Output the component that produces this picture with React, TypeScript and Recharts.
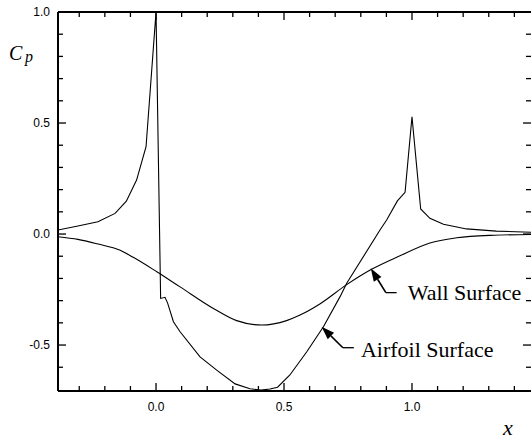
import React from 'react';
import { LineChart, Line, XAxis, YAxis, ReferenceLine } from 'recharts';

// pressure coefficient along the airfoil and along the tunnel wall
const airfoilX = [
  -0.383, -0.305, -0.227, -0.16, -0.116, -0.076, -0.039, 0.0, 0.018, 0.035, 0.045, 0.068, 0.094,
  0.172, 0.237, 0.309, 0.367, 0.41, 0.445, 0.475, 0.523, 0.589, 0.654, 0.719, 0.745, 0.875, 0.901,
  0.943, 0.973, 1.0, 1.034, 1.07, 1.123, 1.213, 1.33, 1.469,
];
const airfoilCp = [
  0.018, 0.036, 0.055, 0.093, 0.148, 0.243, 0.393, 1.0, -0.29, -0.285, -0.31, -0.395, -0.44,
  -0.553, -0.613, -0.675, -0.697, -0.703, -0.698, -0.69, -0.635, -0.53, -0.418, -0.282, -0.222, 0.018, 0.063,
  0.149, 0.188, 0.528, 0.113, 0.071, 0.044, 0.023, 0.013, 0.008,
];

const wallX = [
  -0.383, -0.305, -0.227, -0.142, -0.089, 0.003, 0.094, 0.224, 0.315, 0.413, 0.51, 0.5625, 0.64,
  0.745, 0.842, 0.953, 1.07, 1.175, 1.305, 1.469,
];
const wallCp = [
  -0.012, -0.024, -0.045, -0.072, -0.105, -0.17, -0.238, -0.335, -0.39, -0.41, -0.39, -0.365, -0.315,
  -0.228, -0.159, -0.098, -0.04, -0.017, -0.006, -0.002,
];

const xTicks = [-0.3, -0.2, -0.1, 0, 0.1, 0.2, 0.3, 0.4, 0.5, 0.6, 0.7, 0.8, 0.9, 1.0, 1.1, 1.2, 1.3, 1.4];
const yTicks = [-0.6, -0.5, -0.4, -0.3, -0.2, -0.1, 0, 0.1, 0.2, 0.3, 0.4, 0.5, 0.6, 0.7, 0.8, 0.9, 1.0];

const airfoilData = airfoilX.map((x, i) => ({ x, cp: airfoilCp[i] }));
const wallData = wallX.map((x, i) => ({ x, cp: wallCp[i] }));

const xDomain = [-0.383, 1.465];
const yDomain = [-0.707, 1.0];

const serif = '"Liberation Serif", "Times New Roman", serif';
const sans = '"Liberation Sans", Arial, sans-serif';

const isMajor = (v: number) => Math.abs(v * 2 - Math.round(v * 2)) < 1e-6;
const tickLen = (v: number) => (isMajor(v) ? 8 : 5);

const BottomTick = ({ x, y, payload }: any) => (
  <g>
    <line x1={x} x2={x} y1={y} y2={y - tickLen(payload.value)} stroke="#000" strokeWidth={1.3} />
    {isMajor(payload.value) && (
      <text x={x} y={y + 20} textAnchor="middle" fontSize={12} fontFamily={sans} fill="#000">
        {payload.value.toFixed(1)}
      </text>
    )}
  </g>
);

const TopTick = ({ x, y, payload }: any) => (
  <line x1={x} x2={x} y1={y} y2={y + tickLen(payload.value)} stroke="#000" strokeWidth={1.3} />
);

const LeftTick = ({ x, y, payload }: any) => (
  <g>
    <line x1={x} x2={x + tickLen(payload.value)} y1={y} y2={y} stroke="#000" strokeWidth={1.3} />
    {isMajor(payload.value) && (
      <text x={x - 8} y={y + 4} textAnchor="end" fontSize={12} fontFamily={sans} fill="#000">
        {payload.value.toFixed(1)}
      </text>
    )}
  </g>
);

const RightTick = ({ x, y, payload }: any) => (
  <line x1={x} x2={x - tickLen(payload.value)} y1={y} y2={y} stroke="#000" strokeWidth={1.3} />
);

// diagonal leader with a filled head at the second point
const Arrow = ({ x1, y1, x2, y2 }: any) => {
  const a = Math.atan2(y2 - y1, x2 - x1);
  const L = 13;
  const W = 4.5;
  const bx = x2 - L * Math.cos(a);
  const by = y2 - L * Math.sin(a);
  const px = -Math.sin(a) * W;
  const py = Math.cos(a) * W;
  return (
    <g>
      <line x1={x1} y1={y1} x2={bx} y2={by} stroke="#000" strokeWidth={1.6} />
      <polygon points={`${x2},${y2} ${bx + px},${by + py} ${bx - px},${by - py}`} fill="#000" />
    </g>
  );
};

const leader = (text: string, dx: number, dy: number) => ({ x1, y1, x2, y2 }: any) => (
  <g>
    <line x1={x1} y1={y1} x2={x2} y2={y2} stroke="#000" strokeWidth={1.3} />
    <text x={x2 + dx} y={y2 + dy} fontSize={22} fontFamily={serif} fill="#000">
      {text}
    </text>
  </g>
);

export default function App() {
  return (
    <div style={{ position: 'absolute', left: 0, top: 0, width: 532, height: 441, background: '#fff' }}>
      <LineChart width={532} height={441} margin={{ top: 11, right: 0, bottom: 0, left: 0 }}>
        <XAxis
          xAxisId="b"
          dataKey="x"
          type="number"
          domain={xDomain}
          allowDataOverflow
          ticks={xTicks}
          interval={0}
          height={50}
          tickSize={0}
          tickMargin={0}
          tickLine={false}
          tick={<BottomTick />}
          axisLine={{ stroke: '#000', strokeWidth: 2 }}
        />
        <XAxis
          xAxisId="t"
          orientation="top"
          dataKey="x"
          type="number"
          domain={xDomain}
          allowDataOverflow
          ticks={xTicks}
          interval={0}
          height={1}
          tickSize={0}
          tickMargin={0}
          tickLine={false}
          tick={<TopTick />}
          axisLine={{ stroke: '#000', strokeWidth: 2 }}
        />
        <YAxis
          yAxisId="l"
          type="number"
          domain={yDomain}
          allowDataOverflow
          ticks={yTicks}
          interval={0}
          width={58}
          tickSize={0}
          tickMargin={0}
          tickLine={false}
          tick={<LeftTick />}
          axisLine={{ stroke: '#000', strokeWidth: 2 }}
        />
        <YAxis
          yAxisId="r"
          orientation="right"
          type="number"
          domain={yDomain}
          allowDataOverflow
          ticks={yTicks}
          interval={0}
          width={1}
          tickSize={0}
          tickMargin={0}
          tickLine={false}
          tick={<RightTick />}
          axisLine={false}
        />
        <Line
          xAxisId="b"
          yAxisId="l"
          data={airfoilData}
          dataKey="cp"
          type="linear"
          stroke="#000"
          strokeWidth={1.1}
          dot={false}
          isAnimationActive={false}
        />
        <Line
          xAxisId="t"
          yAxisId="r"
          data={wallData}
          dataKey="cp"
          type="monotone"
          stroke="#000"
          strokeWidth={1.1}
          dot={false}
          isAnimationActive={false}
        />
        <ReferenceLine
          xAxisId="b"
          yAxisId="l"
          segment={[{ x: 0.898, y: -0.264 }, { x: 0.839, y: -0.154 }]}
          shape={<Arrow />}
        />
        <ReferenceLine
          xAxisId="b"
          yAxisId="l"
          segment={[{ x: 0.898, y: -0.264 }, { x: 0.94, y: -0.264 }]}
          shape={leader('Wall Surface', 11, 7)}
        />
        <ReferenceLine
          xAxisId="b"
          yAxisId="l"
          segment={[{ x: 0.73, y: -0.512 }, { x: 0.647, y: -0.418 }]}
          shape={<Arrow />}
        />
        <ReferenceLine
          xAxisId="b"
          yAxisId="l"
          segment={[{ x: 0.73, y: -0.512 }, { x: 0.773, y: -0.512 }]}
          shape={leader('Airfoil Surface', 7, 9)}
        />
        <text x={9} y={60} fontFamily={serif} fontStyle="italic" fontSize={20} fill="#000">
          C
        </text>
        <text x={25} y={62} fontFamily={serif} fontStyle="italic" fontSize={16} fill="#000">
          p
        </text>
        <text x={503} y={435} fontFamily={serif} fontStyle="italic" fontSize={22} fill="#000">
          x
        </text>
      </LineChart>
    </div>
  );
}
